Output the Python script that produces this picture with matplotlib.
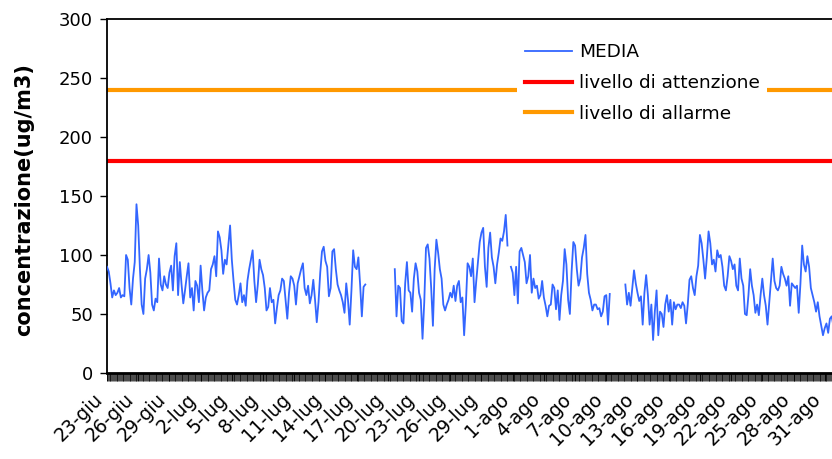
import numpy as np
import matplotlib
matplotlib.use("Agg")
import matplotlib.pyplot as plt
from matplotlib.ticker import FixedLocator, MultipleLocator
from matplotlib.lines import Line2D
import matplotlib.transforms as mtransforms

nan = np.nan

# ---- data (4-hour samples, 6 per day, from 23-giu to 31-ago) ----
media = [
    90, 86, 76, 64, 70, 66,      # 23-giu
    68, 72, 64, 66, 65, 100,
    96, 72, 58, 80, 94, 143,
    125, 88, 58, 50, 80, 88,     # 26-giu
    100, 85, 58, 53, 63, 60,
    97, 75, 70, 82, 75, 72,
    85, 91, 70, 99, 110, 66,     # 29-giu
    94, 75, 59, 70, 82, 93,
    64, 72, 53, 78, 74, 60,
    91, 70, 53, 64, 68, 70,      # 2-lug
    88, 92, 99, 82, 120, 115,
    104, 84, 96, 92, 108, 125,
    96, 78, 62, 58, 66, 76,      # 5-lug
    60, 66, 57, 78, 88, 96,
    104, 78, 60, 75, 96, 88,
    83, 72, 53, 56, 72, 60,      # 8-lug
    62, 42, 55, 66, 70, 80,
    78, 62, 46, 68, 82, 80,
    74, 58, 76, 82, 88, 93,      # 11-lug
    72, 66, 74, 59, 66, 79,
    62, 43, 60, 85, 103, 107,
    95, 90, 65, 72, 103, 105,    # 14-lug
    88, 75, 70, 66, 60, 51,
    76, 62, 41, 70, 104, 90,
    88, 98, 75, 48, 73, 75,      # 17-lug
    nan, nan, nan, nan, nan, nan,
    nan, nan, nan, nan, nan, nan,
    nan, nan, nan, nan, 88, 48,  # 20-lug
    74, 72, 44, 42, 76, 94,
    70, 68, 52, 80, 93, 86,
    68, 62, 29, 60, 106, 109,    # 23-lug
    97, 72, 40, 88, 113, 102,
    88, 80, 58, 53, 58, 62,
    68, 64, 74, 61, 74, 78,      # 26-lug
    60, 64, 32, 58, 93, 90,
    82, 97, 60, 78, 94, 111,
    119, 123, 90, 73, 106, 119,  # 29-lug
    98, 90, 76, 92, 102, 114,
    112, 120, 134, 108, nan, 90,
    85, 66, 90, 59, 103, 106,    # 1-ago
    100, 94, 76, 82, 100, 68,
    80, 72, 74, 63, 66, 78,
    64, 57, 48, 57, 58, 75,      # 4-ago
    72, 54, 70, 45, 66, 78,
    105, 92, 62, 50, 86, 111,
    108, 88, 74, 80, 98, 106,    # 7-ago
    117, 84, 68, 62, 53, 58,
    58, 54, 55, 48, 52, 65,
    66, 41, 67, nan, nan, nan,   # 10-ago
    nan, nan, nan, nan, nan, 75,
    58, 68, 57, 72, 87, 76,
    68, 61, 65, 41, 68, 83,      # 13-ago
    66, 41, 58, 28, 52, 70,
    32, 52, 50, 39, 58, 66,
    52, 62, 41, 60, 54, 58,      # 16-ago
    58, 55, 60, 57, 42, 58,
    79, 82, 72, 66, 82, 91,
    117, 110, 96, 80, 98, 120,   # 19-ago
    110, 92, 96, 86, 104, 98,
    100, 90, 74, 70, 82, 99,
    95, 88, 92, 74, 70, 97,      # 22-ago
    80, 74, 50, 49, 66, 88,
    74, 66, 51, 58, 49, 66,
    80, 66, 57, 41, 60, 78,      # 25-ago
    97, 78, 72, 70, 74, 90,
    84, 80, 74, 82, 57, 76,
    74, 72, 74, 51, 76, 108,     # 28-ago
    92, 86, 99, 90, 72, 66,
    60, 52, 60, 48, 40, 32,
    38, 42, 34, 46, 48, 40,      # 31-ago
]
samples_per_day = 6
livello_attenzione = 180
livello_allarme = 240
tick_labels = ["23-giu", "26-giu", "29-giu", "2-lug", "5-lug", "8-lug", "11-lug",
               "14-lug", "17-lug", "20-lug", "23-lug", "26-lug", "29-lug", "1-ago",
               "4-ago", "7-ago", "10-ago", "13-ago", "16-ago", "19-ago", "22-ago",
               "25-ago", "28-ago", "31-ago"]
label_step_days = 3

y = np.array(media, dtype=float)
x = np.arange(len(y)) / samples_per_day
n_days = len(y) / samples_per_day

W, H = 832, 459
fig = plt.figure(figsize=(W / 100, H / 100), dpi=100)
ax = fig.add_axes([107 / W, 1 - 373 / H, (832 - 107) / W, (373 - 19) / H])

ax.axhline(livello_allarme, color="#FF9900", lw=3.0, zorder=2)
ax.axhline(livello_attenzione, color="#FF0000", lw=3.0, zorder=2)
ax.plot(x, y, color="#3366FF", lw=1.3, zorder=3)

handles = [Line2D([], [], color="#3366FF", lw=1.3),
           Line2D([], [], color="#FF0000", lw=3.0),
           Line2D([], [], color="#FF9900", lw=3.0)]
leg = ax.legend(handles, ["MEDIA", "livello di attenzione", "livello di allarme"],
                loc="upper left", bbox_to_anchor=(0.553, 0.979),
                fontsize=13.3, frameon=True, fancybox=False, framealpha=1,
                facecolor="white", edgecolor="white", borderpad=0.4,
                handlelength=2.55, handletextpad=0.4, labelspacing=0.7)
leg.get_frame().set_linewidth(0)

ax.set_ylim(0, 300)
ax.set_xlim(0, 69.7)
ax.yaxis.set_major_locator(MultipleLocator(50))
ax.tick_params(axis="y", labelsize=13, length=5, width=1, pad=5, direction="out")

major = np.arange(0, len(tick_labels)) * label_step_days
ax.xaxis.set_major_locator(FixedLocator(major))
ax.xaxis.set_minor_locator(FixedLocator(np.arange(0, n_days, 1 / 12)))
ax.set_xticklabels(tick_labels, rotation=45, ha="right", va="center",
                   rotation_mode="anchor", fontsize=13.5)
ax.tick_params(axis="x", which="major", length=6, width=0.7, pad=11, direction="out")
ax.tick_params(axis="x", which="minor", length=6, width=0.5, direction="out")
off = mtransforms.ScaledTranslation(-7 / 100, 0, fig.dpi_scale_trans)
for lab in ax.get_xticklabels():
    lab.set_transform(lab.get_transform() + off)

for s in ["left", "top"]:
    ax.spines[s].set_linewidth(1.3)
ax.spines["bottom"].set_linewidth(2)
ax.spines["right"].set_visible(False)

ax.set_ylabel("concentrazione(ug/m3)", fontsize=15, fontweight="bold")
ax.yaxis.set_label_coords(-0.1, 0.49)

fig.savefig("out.png", dpi=100)
